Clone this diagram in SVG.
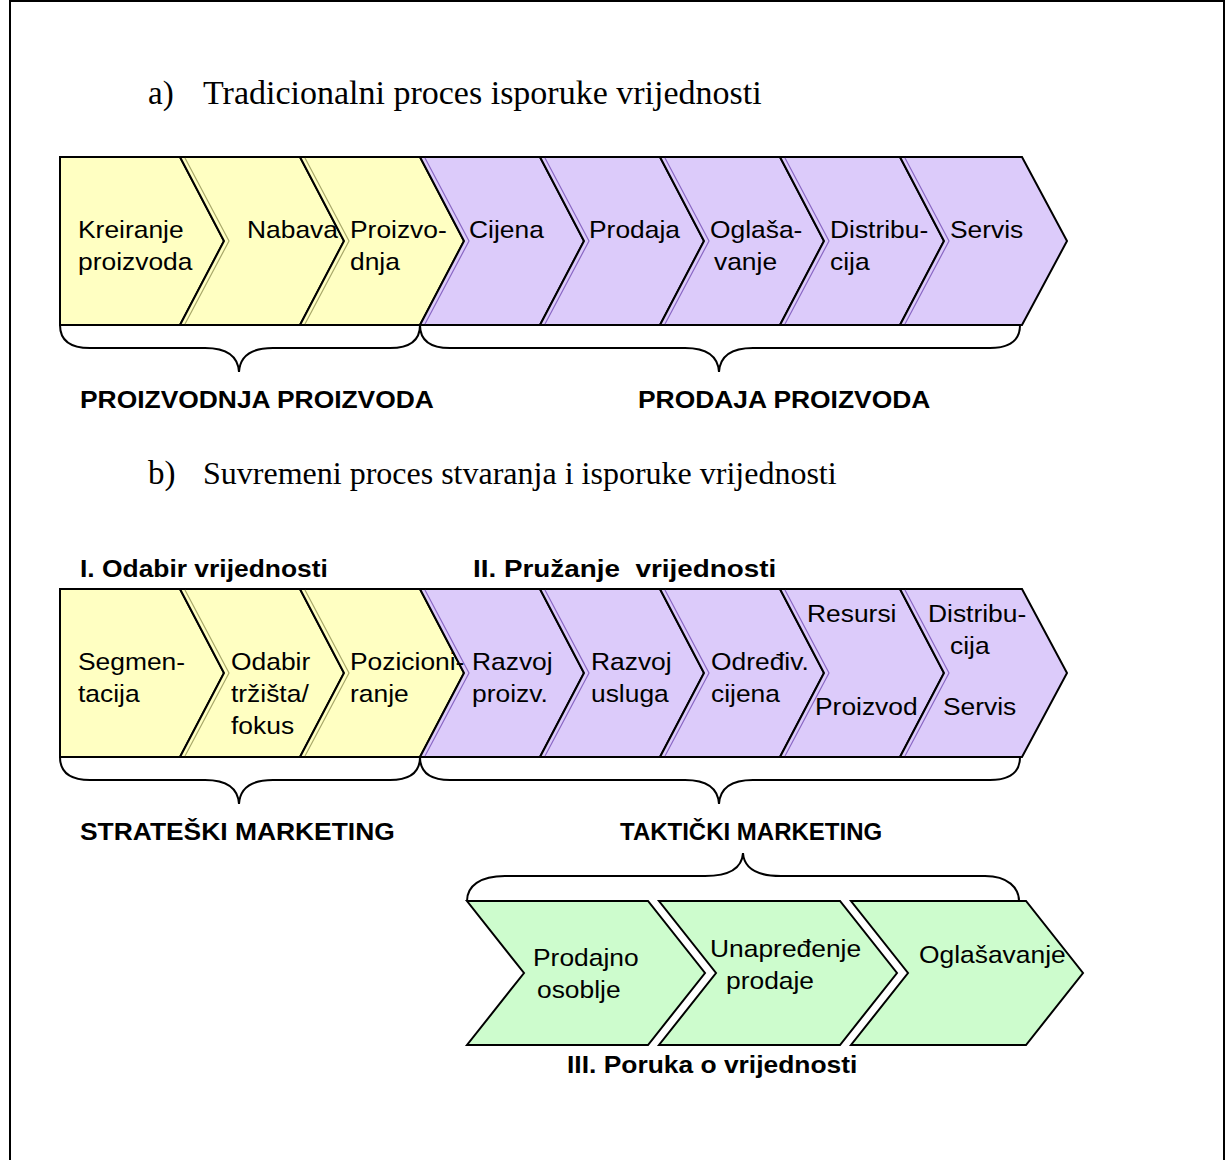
<svg xmlns="http://www.w3.org/2000/svg" width="1226" height="1160" viewBox="0 0 1226 1160">
<style>
.frame{fill:none;stroke:#000;stroke-width:2}
.cy{fill:#ffffc2;stroke:#000;stroke-width:2;stroke-linejoin:miter}
.cp{fill:#dccbfa;stroke:#000;stroke-width:2;stroke-linejoin:miter}
.cg{fill:#cdfccd;stroke:#000;stroke-width:2;stroke-linejoin:miter}
.ey{fill:none;stroke:#a8a86a;stroke-width:1.2}
.ep{fill:none;stroke:#8a68c4;stroke-width:1.2}
.br{fill:none;stroke:#000;stroke-width:2}
.t{font-family:"Liberation Sans",Arial,sans-serif;font-size:24px;fill:#000}
.b{font-family:"Liberation Sans",Arial,sans-serif;font-size:24px;font-weight:bold;fill:#000}
.h{font-family:"Liberation Serif","Times New Roman",serif;font-size:33px;fill:#000}
</style>
<rect class="frame" x="10" y="1" width="1214" height="1170"/>

<g id="heading-a"><text class="h" x="148" y="104">a)</text><text class="h" x="203" y="104" style="font-size:34px">Tradicionalni proces isporuke vrijednosti</text></g>

<g id="row-a">
<g id="a1"><polygon class="cy" points="60,157 180,157 224,241 180,325 60,325"/><text class="t" transform="translate(78 238) scale(1.1 1)">Kreiranje</text><text class="t" transform="translate(78 270) scale(1.1 1)">proizvoda</text></g>
<g id="a2"><polygon class="cy" points="180,157 300,157 344,241 300,325 180,325 224,241"/><polyline class="ey" points="185,158 229,241 185,324"/><text class="t" transform="translate(247 238) scale(1.1 1)">Nabava</text></g>
<g id="a3"><polygon class="cy" points="300,157 420,157 464,241 420,325 300,325 344,241"/><polyline class="ey" points="305,158 349,241 305,324"/><text class="t" transform="translate(350 238) scale(1.1 1)">Proizvo-</text><text class="t" transform="translate(350 270) scale(1.1 1)">dnja</text></g>
<g id="a4"><polygon class="cp" points="420,157 540,157 584,241 540,325 420,325 464,241"/><polyline class="ep" points="425,158 469,241 425,324"/><text class="t" transform="translate(469 238) scale(1.1 1)">Cijena</text></g>
<g id="a5"><polygon class="cp" points="540,157 660,157 704,241 660,325 540,325 584,241"/><polyline class="ep" points="545,158 589,241 545,324"/><text class="t" transform="translate(589 238) scale(1.1 1)">Prodaja</text></g>
<g id="a6"><polygon class="cp" points="660,157 780,157 824,241 780,325 660,325 704,241"/><polyline class="ep" points="665,158 709,241 665,324"/><text class="t" transform="translate(710 238) scale(1.1 1)">Oglaša-</text><text class="t" transform="translate(714 270) scale(1.1 1)">vanje</text></g>
<g id="a7"><polygon class="cp" points="780,157 900,157 944,241 900,325 780,325 824,241"/><polyline class="ep" points="785,158 829,241 785,324"/><text class="t" transform="translate(830 238) scale(1.1 1)">Distribu-</text><text class="t" transform="translate(830 270) scale(1.1 1)">cija</text></g>
<g id="a8"><polygon class="cp" points="900,157 1022,157 1067,241 1022,325 900,325 944,241"/><polyline class="ep" points="905,158 949,241 905,324"/><text class="t" transform="translate(950 238) scale(1.1 1)">Servis</text></g>
</g>

<g id="heading-b"><text class="h" x="148" y="484">b)</text><text class="h" x="203" y="484" style="font-size:32px">Suvremeni proces stvaranja i isporuke vrijednosti</text></g>

<g id="label-odabir"><text class="b" transform="translate(80 577) scale(1.1 1)">I. Odabir vrijednosti</text></g>
<g id="label-pruzanje"><text class="b" transform="translate(473 577) scale(1.16 1)" xml:space="preserve">II. Pružanje  vrijednosti</text></g>

<g id="row-b">
<g id="b1"><polygon class="cy" points="60,589 180,589 224,673 180,757 60,757"/><text class="t" transform="translate(78 670) scale(1.1 1)">Segmen-</text><text class="t" transform="translate(78 702) scale(1.1 1)">tacija</text></g>
<g id="b2"><polygon class="cy" points="180,589 300,589 344,673 300,757 180,757 224,673"/><polyline class="ey" points="185,590 229,673 185,756"/><text class="t" transform="translate(231 670) scale(1.1 1)">Odabir</text><text class="t" transform="translate(231 702) scale(1.1 1)">tržišta/</text><text class="t" transform="translate(231 734) scale(1.1 1)">fokus</text></g>
<g id="b3"><polygon class="cy" points="300,589 420,589 464,673 420,757 300,757 344,673"/><polyline class="ey" points="305,590 349,673 305,756"/></g>
<g id="b4"><polygon class="cp" points="420,589 540,589 584,673 540,757 420,757 464,673"/><polyline class="ep" points="425,590 469,673 425,756"/><text class="t" transform="translate(472 670) scale(1.1 1)">Razvoj</text><text class="t" transform="translate(472 702) scale(1.1 1)">proizv.</text></g>
<g id="b3-text"><text class="t" transform="translate(350 670) scale(1.1 1)">Pozicioni-</text><text class="t" transform="translate(350 702) scale(1.1 1)">ranje</text></g>
<g id="b5"><polygon class="cp" points="540,589 660,589 704,673 660,757 540,757 584,673"/><polyline class="ep" points="545,590 589,673 545,756"/><text class="t" transform="translate(591 670) scale(1.1 1)">Razvoj</text><text class="t" transform="translate(591 702) scale(1.1 1)">usluga</text></g>
<g id="b6"><polygon class="cp" points="660,589 780,589 824,673 780,757 660,757 704,673"/><polyline class="ep" points="665,590 709,673 665,756"/><text class="t" transform="translate(711 670) scale(1.1 1)">Određiv.</text><text class="t" transform="translate(711 702) scale(1.1 1)">cijena</text></g>
<g id="b7"><polygon class="cp" points="780,589 900,589 944,673 900,757 780,757 824,673"/><polyline class="ep" points="785,590 829,673 785,756"/><text class="t" transform="translate(807 622) scale(1.1 1)">Resursi</text><text class="t" transform="translate(815 715) scale(1.1 1)">Proizvod</text></g>
<g id="b8"><polygon class="cp" points="900,589 1022,589 1067,673 1022,757 900,757 944,673"/><polyline class="ep" points="905,590 949,673 905,756"/><text class="t" transform="translate(928 622) scale(1.1 1)">Distribu-</text><text class="t" transform="translate(950 654) scale(1.1 1)">cija</text><text class="t" transform="translate(943 715) scale(1.1 1)">Servis</text></g>
</g>

<g id="row-c">
<g id="c1"><polygon class="cg" points="467,901 648,901 705,973 648,1045 467,1045 524,973"/><text class="t" transform="translate(533 966) scale(1.1 1)">Prodajno</text><text class="t" transform="translate(537 998) scale(1.1 1)">osoblje</text></g>
<g id="c2"><polygon class="cg" points="659,901 840,901 897,973 840,1045 659,1045 716,973"/><text class="t" transform="translate(710 957) scale(1.1 1)">Unapređenje</text><text class="t" transform="translate(726 989) scale(1.1 1)">prodaje</text></g>
<g id="c3"><polygon class="cg" points="851,901 1026,901 1083,973 1026,1045 851,1045 908,973"/><text class="t" transform="translate(919 963) scale(1.1 1)">Oglašavanje</text></g>
</g>

<g id="connectors">
<path class="br" d="M60,325 C60,340 70,348 90,348 L205,348 C226,348 238,356 239,372 C240,356 252,348 273,348 L390,348 C410,348 420,340 420,325"/>
<path class="br" d="M420,325 C420,340 430,348 450,348 L685,348 C706,348 718,356 719,372 C720,356 732,348 753,348 L990,348 C1010,348 1020,340 1020,325"/>
<path class="br" d="M60,757 C60,772 70,780 90,780 L205,780 C226,780 238,788 239,804 C240,788 252,780 273,780 L390,780 C410,780 420,772 420,757"/>
<path class="br" d="M420,757 C420,772 430,780 450,780 L685,780 C706,780 718,788 719,804 C720,788 732,780 753,780 L990,780 C1010,780 1020,772 1020,757"/>
<path class="br" d="M467,901 C467,886 480,876 505,876 L705,876 C730,876 742,868 743,853 C744,868 756,876 781,876 L985,876 C1008,876 1019,888 1019,901"/>
</g>

<g id="labels">
<text class="b" transform="translate(80 408) scale(1.1 1)">PROIZVODNJA PROIZVODA</text>
<text class="b" transform="translate(638 408) scale(1.1 1)">PRODAJA PROIZVODA</text>
<text class="b" transform="translate(80 840) scale(1.1 1)">STRATEŠKI MARKETING</text>
<text class="b" transform="translate(620 840) scale(1.0 1)">TAKTIČKI MARKETING</text>
<text class="b" transform="translate(567 1073) scale(1.1 1)">III. Poruka o vrijednosti</text>
</g>
</svg>
